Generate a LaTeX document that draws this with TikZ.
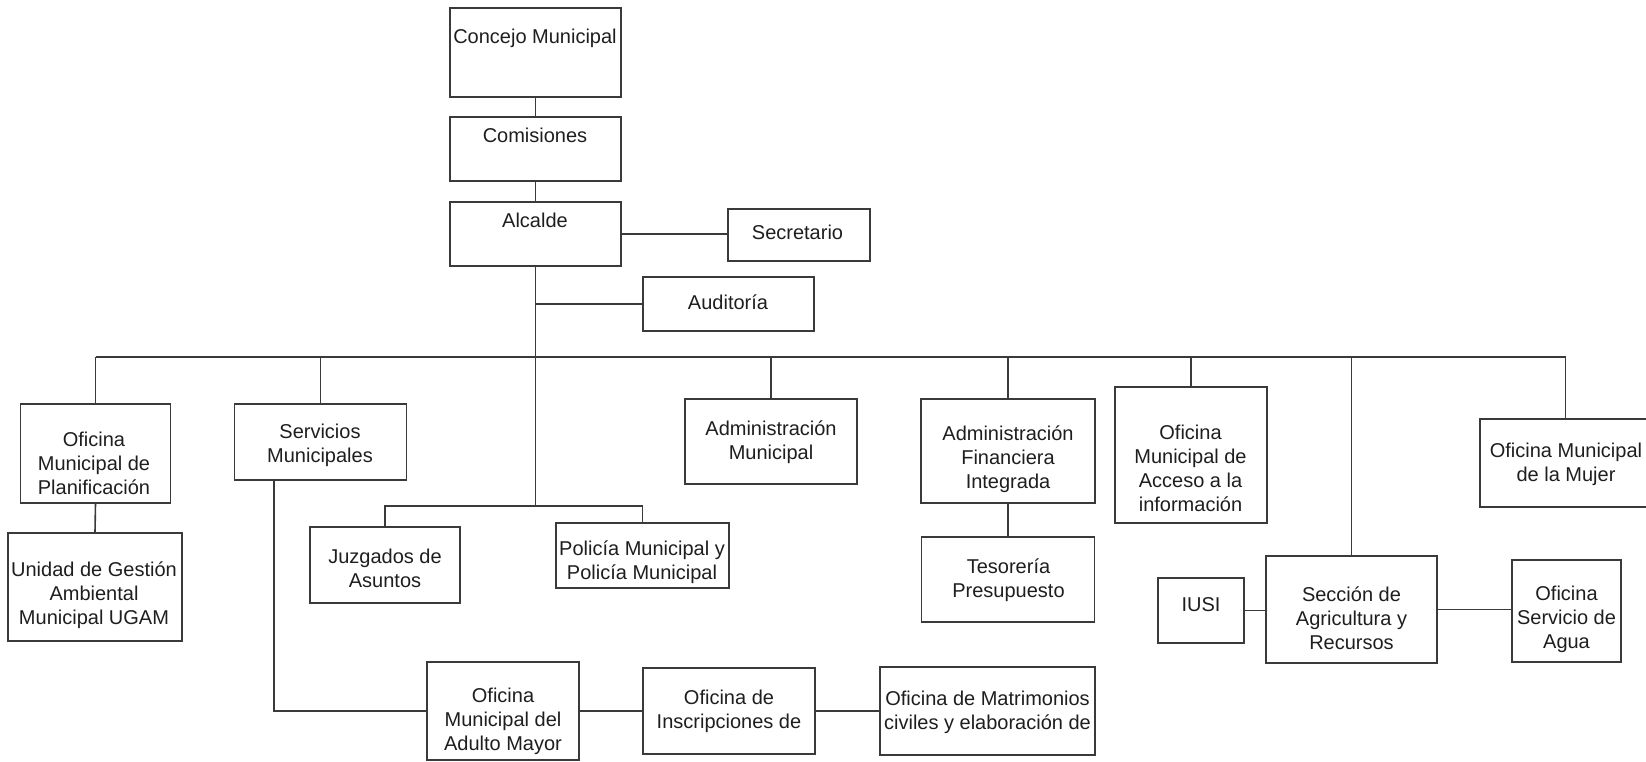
\documentclass[tikz,border=0pt]{standalone}
\usepackage{fontspec}
\setmainfont{Liberation Sans}
\definecolor{linec}{HTML}{3A3A3A}
\definecolor{txtc}{HTML}{1E1E1E}
\tikzset{
  box/.style={draw=linec, line width=1.6pt, rectangle, inner sep=0pt, fill=none},
  lbl/.style={font=\fontsize{20}{24}\selectfont, align=center, text=txtc, inner sep=0pt},
  conn/.style={draw=linec, line width=1.6pt}
}
\begin{document}
\begin{tikzpicture}[x=1pt,y=-1pt]
\useasboundingbox (0,0) rectangle (1646,761);
% boxes
\node[box, minimum width=171pt, minimum height=89pt] (concejo) at (535.5,52.5) {};
\node[box, minimum width=171pt, minimum height=64pt] (comisiones) at (535.5,149) {};
\node[box, minimum width=171pt, minimum height=64pt] (alcalde) at (535.5,234) {};
\node[box, minimum width=142pt, minimum height=52pt] (secretario) at (799,235) {};
\node[box, minimum width=171pt, minimum height=54pt] (auditoria) at (728.5,304) {};
\node[box, minimum width=150pt, minimum height=99pt] (planif) at (95.5,453.5) {};
\node[box, minimum width=174pt, minimum height=108pt] (ugam) at (95,587) {};
\node[box, minimum width=172pt, minimum height=76pt] (servicios) at (320.5,442) {};
\node[box, minimum width=150pt, minimum height=76pt] (juzgados) at (385,565) {};
\node[box, minimum width=173pt, minimum height=65pt] (policia) at (642.5,555.5) {};
\node[box, minimum width=172pt, minimum height=85pt] (adminmun) at (771,441.5) {};
\node[box, minimum width=174pt, minimum height=104pt] (afi) at (1008,451) {};
\node[box, minimum width=173pt, minimum height=85pt] (tesoreria) at (1008,579.5) {};
\node[box, minimum width=152pt, minimum height=136pt] (acceso) at (1191,455) {};
\node[box, minimum width=171pt, minimum height=88pt] (mujer) at (1565.5,463) {};
\node[box, minimum width=171pt, minimum height=107pt] (seccion) at (1351.5,609.5) {};
\node[box, minimum width=86pt, minimum height=65pt] (iusi) at (1201,610.5) {};
\node[box, minimum width=109pt, minimum height=102pt] (agua) at (1566.5,611) {};
\node[box, minimum width=152pt, minimum height=98pt] (adulto) at (503,711) {};
\node[box, minimum width=172pt, minimum height=86pt] (inscripciones) at (729,711) {};
\node[box, minimum width=215pt, minimum height=88pt] (matrimonios) at (987.5,711) {};
% labels
\node[lbl] (concejo-t) at (535,38) {Concejo Municipal};
\node[lbl] (comisiones-t) at (535,135) {Comisiones};
\node[lbl] (alcalde-t) at (535,220) {Alcalde};
\node[lbl] (secretario-t) at (797.5,232) {Secretario};
\node[lbl] (auditoria-t) at (728,302) {Auditoría};
\node[lbl] (planif-t) at (94,463) {Oficina\\Municipal de\\Planificación};
\node[lbl] (ugam-t) at (94,595.5) {Unidad de Gestión\\Ambiental\\Municipal UGAM};
\node[lbl] (servicios-t) at (320,445) {Servicios\\Municipales};
\node[lbl] (juzgados-t) at (385,568.5) {Juzgados de\\Asuntos};
\node[lbl] (policia-t) at (642,562) {Policía Municipal y\\Policía Municipal};
\node[lbl] (adminmun-t) at (771,442.5) {Administración\\Municipal};
\node[lbl] (afi-t) at (1008,459.7) {Administración\\Financiera\\Integrada};
\node[lbl] (tesoreria-t) at (1008.5,580.5) {Tesorería\\Presupuesto};
\node[lbl] (acceso-t) at (1190.5,468.8) {Oficina\\Municipal de\\Acceso a la\\información};
\node[lbl] (mujer-t) at (1566,464.2) {Oficina Municipal\\de la Mujer};
\node[lbl] (seccion-t) at (1351.5,618.3) {Sección de\\Agricultura y\\Recursos};
\node[lbl] (iusi-t) at (1201,605) {IUSI};
\node[lbl] (agua-t) at (1566.5,619.8) {Oficina\\Servicio de\\Agua};
\node[lbl] (adulto-t) at (503,721.5) {Oficina\\Municipal del\\Adulto Mayor};
\node[lbl] (inscripciones-t) at (729,711.5) {Oficina de\\Inscripciones de};
\node[lbl] (matrimonios-t) at (987.5,712.5) {Oficina de Matrimonios\\civiles y elaboración de};
% coordinates
\coordinate (tb) at (535.5,506);
\coordinate (busL) at (95.5,357);
\coordinate (busR) at (1565.5,357);
\coordinate (sv) at (274,480);
% connectors
\draw[conn] (concejo.south) -- (comisiones.north);
\draw[conn] (comisiones.south) -- (alcalde.north);
\draw[conn] (alcalde.east) -- (alcalde.east -| secretario.west);
\draw[conn] (alcalde.south) -- (tb);
\draw[conn] (auditoria.west) -- (auditoria.west -| alcalde.south);
\draw[conn] (busL) -- (busR);
\draw[conn] (planif.north) -- (planif.north |- busL);
\draw[conn] (servicios.north) -- (servicios.north |- busL);
\draw[conn] (adminmun.north) -- (adminmun.north |- busL);
\draw[conn] (afi.north) -- (afi.north |- busL);
\draw[conn] (acceso.north) -- (acceso.north |- busL);
\draw[conn] (seccion.north) -- (seccion.north |- busL);
\draw[conn] (mujer.north) -- (mujer.north |- busL);
\draw[conn] (planif.south) -- (ugam.north);
\draw[conn] (juzgados.north) |- (tb) -| (policia.north);
\draw[conn] (afi.south) -- (tesoreria.north);
\draw[conn] (sv) |- (adulto.west);
\draw[conn] (adulto.east) -- (inscripciones.west);
\draw[conn] (inscripciones.east) -- (matrimonios.west);
\draw[conn] (iusi.east) -- (iusi.east -| seccion.west);
\draw[conn] (seccion.east) -- (seccion.east -| agua.west);
\end{tikzpicture}
\end{document}
